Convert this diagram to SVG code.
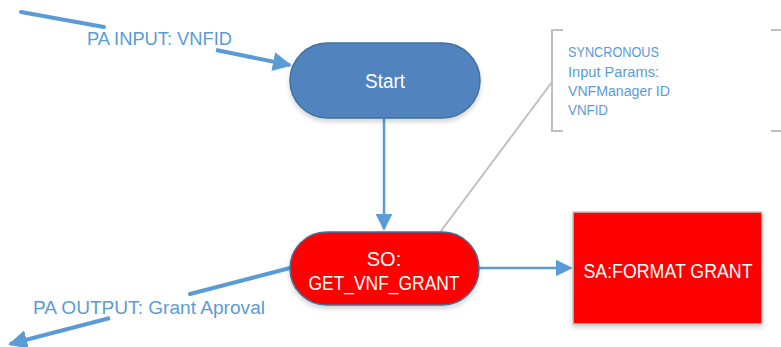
<svg xmlns="http://www.w3.org/2000/svg" width="781" height="347" viewBox="0 0 781 347">
  <style>
    .lbl { font-family: "Liberation Sans", Arial, sans-serif; fill: #5B9BD5; }
    .node-text { font-family: "Liberation Sans", Arial, sans-serif; fill: #ffffff; font-size: 20px; text-anchor: middle; }
    .flow { stroke: #5B9BD5; fill: none; }
    .note { stroke: #BFBFBF; fill: none; stroke-width: 2; }
  </style>
  <defs>
    <marker id="head" viewBox="0 0 10 10" refX="9" refY="5" markerWidth="17" markerHeight="17" markerUnits="userSpaceOnUse" orient="auto">
      <path d="M0,0 L10,5 L0,10 Z" fill="#5B9BD5"/>
    </marker>
    <marker id="headWide" viewBox="0 0 10 10" refX="9" refY="5" markerWidth="19" markerHeight="19" markerUnits="userSpaceOnUse" orient="auto">
      <path d="M0,0 L10,5 L0,10 Z" fill="#5B9BD5"/>
    </marker>
    <filter id="shadow" x="-10%" y="-10%" width="120%" height="130%">
      <feGaussianBlur in="SourceAlpha" stdDeviation="2.5"/>
      <feOffset dx="0" dy="3"/>
      <feComponentTransfer><feFuncA type="linear" slope="0.18"/></feComponentTransfer>
      <feMerge><feMergeNode/><feMergeNode in="SourceGraphic"/></feMerge>
    </filter>
  </defs>

  <rect width="781" height="347" fill="#ffffff"/>

  <!-- connectors -->
  <g id="connectors">
    <!-- note callout -->
    <line class="note" x1="552" y1="82" x2="441" y2="231" stroke-width="1.5"/>
    <!-- parameter input arrow, broken by its label -->
    <line class="flow" x1="21" y1="12" x2="104" y2="27" stroke-width="4" stroke-linecap="round"/>
    <line class="flow" x1="216" y1="50" x2="290" y2="65" stroke-width="4" marker-end="url(#headWide)"/>
    <!-- start to SO -->
    <line class="flow" x1="384" y1="118" x2="384" y2="229" stroke-width="2.5" marker-end="url(#head)"/>
    <!-- SO to SA -->
    <line class="flow" x1="479" y1="268" x2="571" y2="268" stroke-width="2.5" marker-end="url(#head)"/>
    <!-- parameter output arrow, broken by its label -->
    <line class="flow" x1="290" y1="268" x2="190" y2="294" stroke-width="4" stroke-linecap="round"/>
    <line class="flow" x1="110" y1="318" x2="10" y2="344" stroke-width="4" marker-end="url(#headWide)"/>
    <text class="lbl" x="87" y="45" font-size="19" textLength="145" lengthAdjust="spacingAndGlyphs">PA INPUT: VNFID</text>
    <text class="lbl" x="33" y="314" font-size="19" textLength="232" lengthAdjust="spacingAndGlyphs">PA OUTPUT: Grant Aproval</text>
  </g>

  <!-- start node -->
  <g id="start">
    <rect x="290" y="43" width="190" height="75" rx="37.5" fill="#5183BE" stroke="#41719C" stroke-width="1.5" filter="url(#shadow)"/>
    <text class="node-text" x="385" y="88" textLength="40" lengthAdjust="spacingAndGlyphs">Start</text>
  </g>

  <!-- service operation -->
  <g id="so">
    <rect x="290" y="232" width="189" height="73" rx="36.5" fill="#FF0000" stroke="#41719C" stroke-width="1.5" filter="url(#shadow)"/>
    <text class="node-text" x="384" y="266">SO:</text>
    <text class="node-text" x="384" y="290" textLength="151" lengthAdjust="spacingAndGlyphs">GET_VNF_GRANT</text>
  </g>

  <!-- service action -->
  <g id="sa">
    <rect x="573" y="212" width="189" height="112" fill="#FF0000" stroke="#C8C8C8" stroke-width="1.5" filter="url(#shadow)"/>
    <text class="node-text" x="668" y="278" textLength="169" lengthAdjust="spacingAndGlyphs">SA:FORMAT GRANT</text>
  </g>

  <!-- annotation -->
  <g id="note">
    <path class="note" d="M563,30 H552 V131 H563"/>
    <path class="note" d="M771,30 H782 M771,131 H782"/>
    <g class="lbl" font-size="14">
      <text x="568" y="57" textLength="91" lengthAdjust="spacingAndGlyphs">SYNCRONOUS</text>
      <text x="568" y="77" textLength="91" lengthAdjust="spacingAndGlyphs">Input Params:</text>
      <text x="568" y="96" textLength="102" lengthAdjust="spacingAndGlyphs">VNFManager ID</text>
      <text x="568" y="115" textLength="40" lengthAdjust="spacingAndGlyphs">VNFID</text>
    </g>
  </g>
</svg>
